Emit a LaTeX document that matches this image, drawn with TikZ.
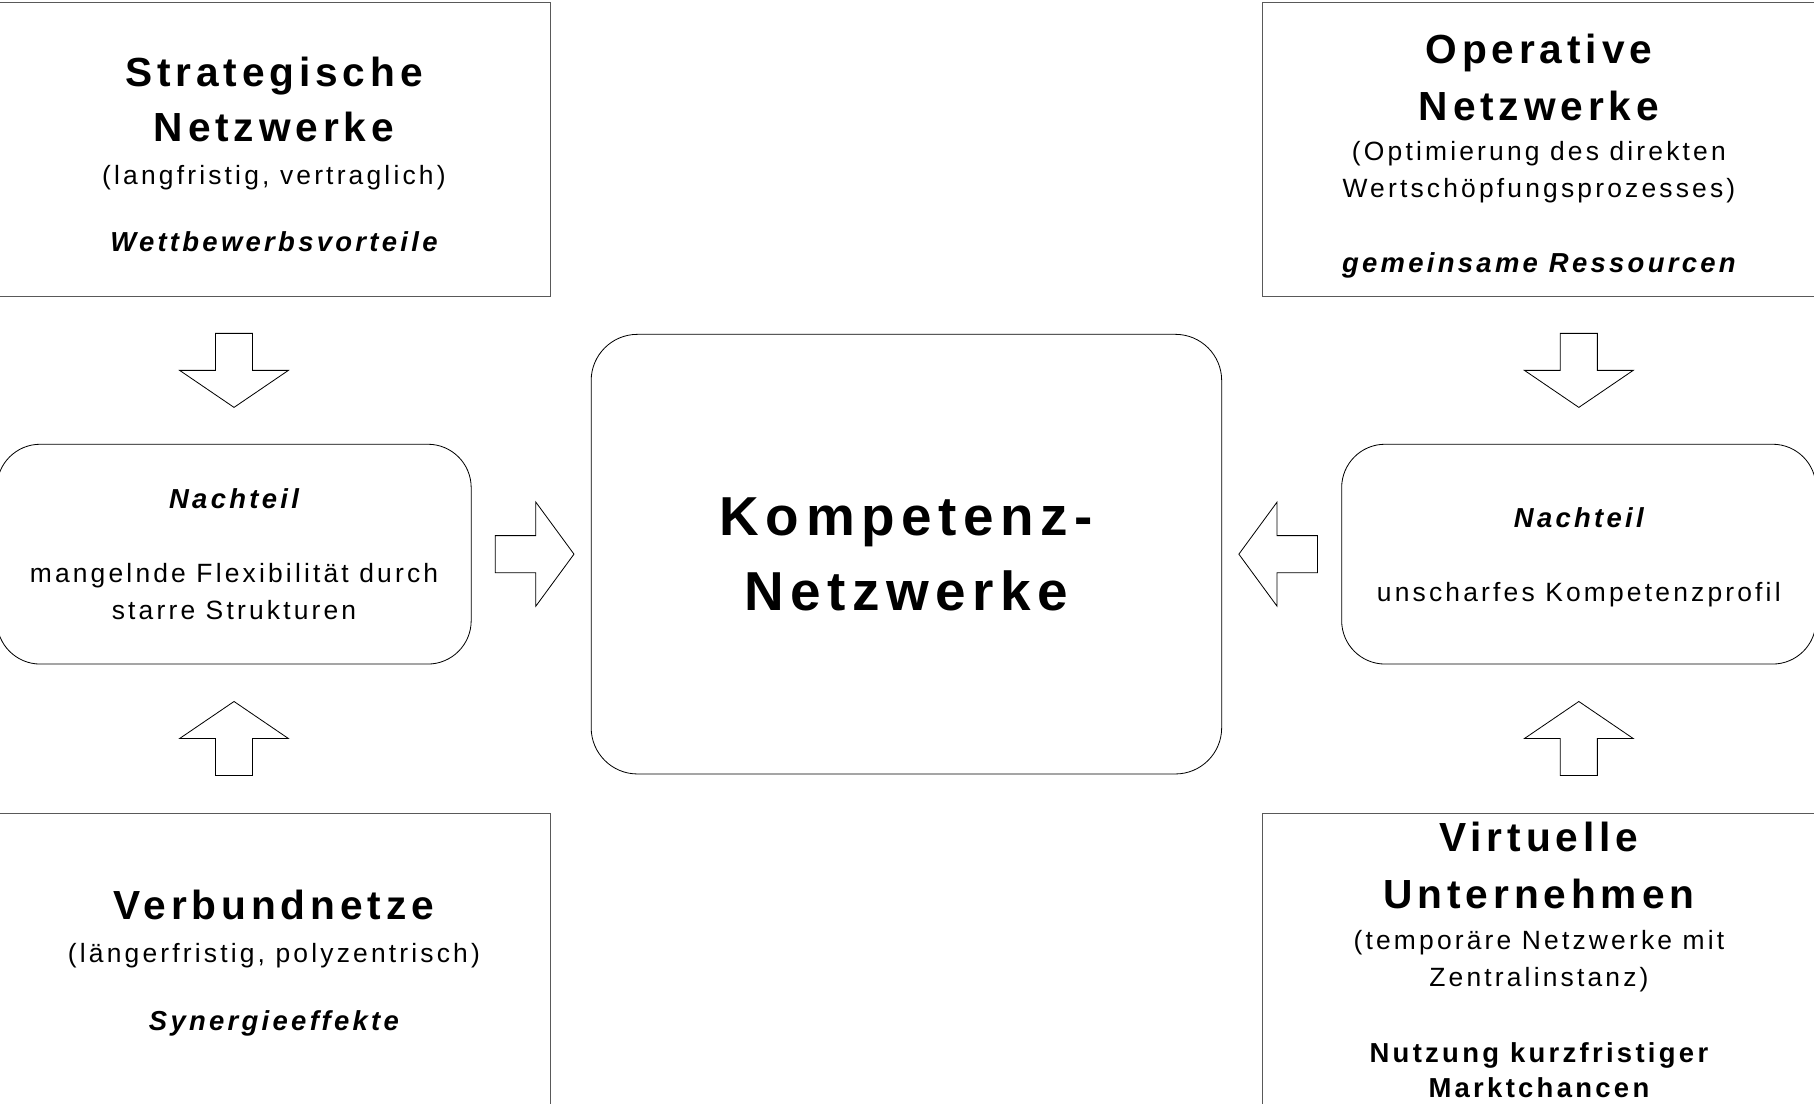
\documentclass[tikz,border=0pt]{standalone}
\usepackage{fontspec}
\usepackage{tikz}
\usetikzlibrary{positioning, calc}
\newfontfamily\diafont[LetterSpace=12]{Liberation Sans}
\newcommand\txfont{\diafont\fontsize{13}{0}\selectfont\lineskiplimit-\maxdimen\lineskip0pt}
\newcommand\hdfont{\fontsize{20}{0}\selectfont\bfseries}
\newcommand\kpfont{\fontsize{27}{0}\selectfont\bfseries}
\newcommand\bdfont{\fontsize{13.5}{0}\selectfont\bfseries}
\newcommand\emfont{\bdfont\itshape}

\begin{document}
\begin{tikzpicture}[x=.2mm, y=-.2mm,
	box/.style={draw=black!65, line width=.5pt, minimum width=95.5mm, minimum height=50.8mm, align=center, inner sep=0pt, font=\txfont},
	nachbox/.style={draw, line width=.4pt, rounded corners=7.5mm, minimum width=82mm, minimum height=38mm, align=center, inner sep=0pt, font=\txfont},
	kompbox/.style={draw, line width=.4pt, rounded corners=8mm, minimum width=109mm, minimum height=76mm, align=center, inner sep=0pt, font=\txfont\kpfont},
	blockarrow/.pic={\draw[line width=.4pt, fill=white] (-16,-32) -- (16,-32) -- (16,0) -- (47,0) -- (0,32) -- (-47,0) -- (-16,0) -- cycle;},
	sidearrow/.pic={\draw[line width=.4pt, fill=white] (-16,-31) -- (16,-31) -- (16,4) -- (45,4) -- (0,37) -- (-45,4) -- (-16,4) -- cycle;}]
	\useasboundingbox (0,0) rectangle (1568,954);
	\clip (0,0) rectangle (1568,954);
	\node[kompbox] (komp) at (783.5,479) {Kompetenz-\\[37pt]Netzwerke};
	\node[nachbox, left=20.6mm of komp] (lnach) {\emfont Nachteil\\[36.4pt]mangelnde Flexibilität durch\\[18.2pt]starre Strukturen};
	\node[nachbox, right=20.6mm of komp, text height=49.1pt] (rnach) {\emfont Nachteil\\[36.4pt]unscharfes Kompetenzprofil};
	\node[box, above=25.4mm of lnach, xshift=6.9mm, text height=100.4pt, text depth=0pt] (strat) {\hdfont Strategische\\[27pt]\hdfont Netzwerke\\[21pt](langfristig, vertraglich)\\[33pt]\emfont Wettbewerbsvorteile};
	\node[box, below=25.6mm of lnach, xshift=6.9mm, text height=71.7pt] (verb) {\hdfont Verbundnetze\\[21.6pt](längerfristig, polyzentrisch)\\[33pt]\emfont Synergieeffekte};
	\node[box, above=25.4mm of rnach, xshift=-6.9mm, text height=124.3pt] (oper) {\hdfont Operative\\[28pt]\hdfont Netzwerke\\[20pt](Optimierung des direkten\\[18.2pt]Wertschöpfungsprozesses)\\[37pt]\emfont gemeinsame Ressourcen};
	\node[box, below=25.6mm of rnach, xshift=-6.9mm] (virt) {\hdfont Virtuelle\\[28pt]\hdfont Unternehmen\\[20.5pt](temporäre Netzwerke mit\\[18.2pt]Zentralinstanz)\\[37pt]\bdfont Nutzung kurzfristiger\\[17.6pt]\bdfont Marktchancen};
	\pic at ($(lnach.north)!.5!(lnach.north |- strat.south)$) {blockarrow};
	\pic[rotate=180] at ($(lnach.south)!.5!(lnach.south |- verb.north)$) {blockarrow};
	\pic at ($(rnach.north)!.5!(rnach.north |- oper.south)$) {blockarrow};
	\pic[rotate=180] at ($(rnach.south)!.5!(rnach.south |- virt.north)$) {blockarrow};
	\pic[rotate=90] at ($(lnach.east)!.5!(komp.west)$) {sidearrow};
	\pic[rotate=-90] at ($(rnach.west)!.5!(komp.east)$) {sidearrow};
\end{tikzpicture}
\end{document}
